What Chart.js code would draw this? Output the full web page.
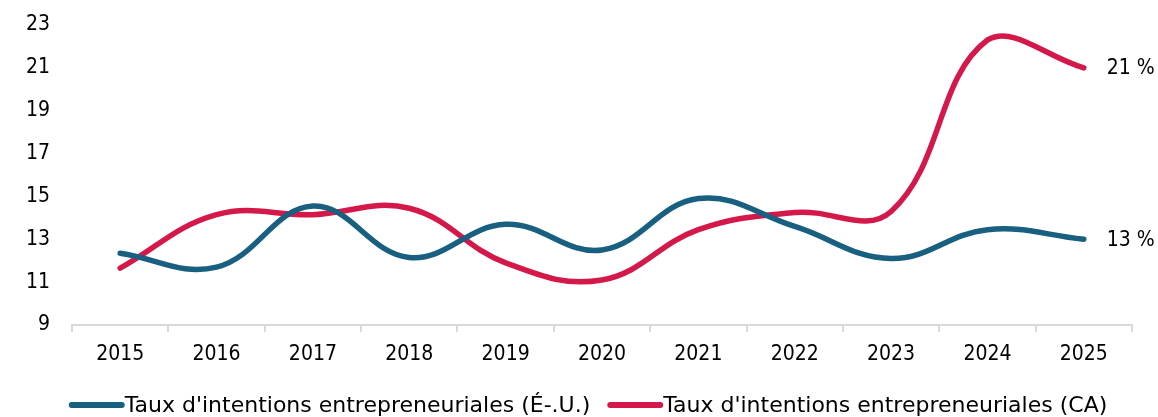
<!DOCTYPE html>
<html>
<head>
<meta charset="utf-8">
<script src="https://cdn.jsdelivr.net/npm/chart.js@4"></script>
<style>
html,body{margin:0;padding:0;background:#fff;}
#wrap{width:1158px;height:417px;position:relative;}
</style>
</head>
<body>
<div id="wrap"><canvas id="c" width="1158" height="417"></canvas></div>
<script>
const categories = ['2015','2016','2017','2018','2019','2020','2021','2022','2023','2024','2025'];
const seriesUS = [12.35, 11.7, 14.55, 12.15, 13.7, 12.5, 14.9, 13.6, 12.1, 13.45, 13.0];
const seriesCA = [11.65, 14.15, 14.15, 14.45, 11.9, 11.1, 13.45, 14.25, 14.3, 22.3, 21.0];
const seriesNames = ["Taux d'intentions entrepreneuriales (É-.U.)", "Taux d'intentions entrepreneuriales (CA)"];
const endLabels = ['13 %', '21 %'];
const yTicks = [9, 11, 13, 15, 17, 19, 21, 23];

const FONT = "'DejaVu Sans Condensed', 'DejaVu Sans', sans-serif";
const LFONT = "'DejaVu Sans', sans-serif";
const FS = 21;
const LFS = 22;
const BLUE = '#185f80';
const RED = '#d4184a';

const endLabelPlugin = {
  id: 'endLabels',
  afterDatasetsDraw(chart) {
    const ctx = chart.ctx;
    ctx.save();
    ctx.font = FS + 'px ' + FONT;
    ctx.fillStyle = '#000';
    ctx.textAlign = 'left';
    ctx.textBaseline = 'middle';
    chart.data.datasets.forEach((ds, i) => {
      const meta = chart.getDatasetMeta(i);
      const pt = meta.data[meta.data.length - 1];
      ctx.fillText(endLabels[i], pt.x + 23, pt.y + 1);
    });
    ctx.restore();
  }
};

const legendPlugin = {
  id: 'customLegend',
  afterDraw(chart) {
    const ctx = chart.ctx;
    ctx.save();
    ctx.font = LFS + 'px ' + LFONT;
    ctx.textBaseline = 'middle';
    ctx.textAlign = 'left';
    const y = 405;
    const lineW = 55;
    const widths = chart.data.datasets.map(ds => ctx.measureText(ds.label).width);
    const gap = 15;
    const total = widths.reduce((a, w) => a + lineW + 3 + w, 0) + gap;
    let x = (1178 - total) / 2;
    chart.data.datasets.forEach((ds, i) => {
      ctx.strokeStyle = ds.borderColor;
      ctx.lineWidth = 6;
      ctx.lineCap = 'round';
      ctx.beginPath();
      ctx.moveTo(x + 3, y);
      ctx.lineTo(x + lineW - 2, y);
      ctx.stroke();
      ctx.fillStyle = '#000';
      ctx.fillText(ds.label, x + lineW + 1, y + 1);
      x += lineW + 3 + widths[i] + gap;
    });
    ctx.restore();
  }
};

new Chart(document.getElementById('c'), {
  type: 'line',
  data: {
    labels: categories,
    datasets: [
      { label: seriesNames[0], data: seriesUS, borderColor: BLUE, backgroundColor: BLUE,
        borderWidth: 5.5, pointRadius: 0, tension: 0.4, fill: false, borderCapStyle: 'round' },
      { label: seriesNames[1], data: seriesCA, borderColor: RED, backgroundColor: RED,
        borderWidth: 5.5, pointRadius: 0, tension: 0.4, fill: false, borderCapStyle: 'round' }
    ]
  },
  options: {
    responsive: false,
    animation: false,
    devicePixelRatio: 1,
    layout: { padding: { left: 0, right: 26, top: 25, bottom: 32 } },
    plugins: { legend: { display: false }, tooltip: { enabled: false } },
    scales: {
      x: {
        offset: true,
        grid: { display: true, offset: true, drawOnChartArea: false, drawTicks: true, tickLength: 7, color: '#d9d9d9', lineWidth: 2 },
        border: { display: true, color: '#d9d9d9', width: 2 },
        ticks: { color: '#000', font: { family: FONT, size: FS }, padding: 10, maxRotation: 0 },
        afterFit(axis) { axis.height = 60; }
      },
      y: {
        min: 9, max: 23,
        afterBuildTicks(axis) { axis.ticks = yTicks.map(v => ({ value: v })); },
        grid: { display: false, drawTicks: true, tickLength: 20 },
        border: { display: false },
        ticks: { color: '#000', font: { family: FONT, size: FS }, padding: 2 },
        afterFit(axis) { axis.width = 72; }
      }
    }
  },
  plugins: [endLabelPlugin, legendPlugin]
});
</script>
</body>
</html>
